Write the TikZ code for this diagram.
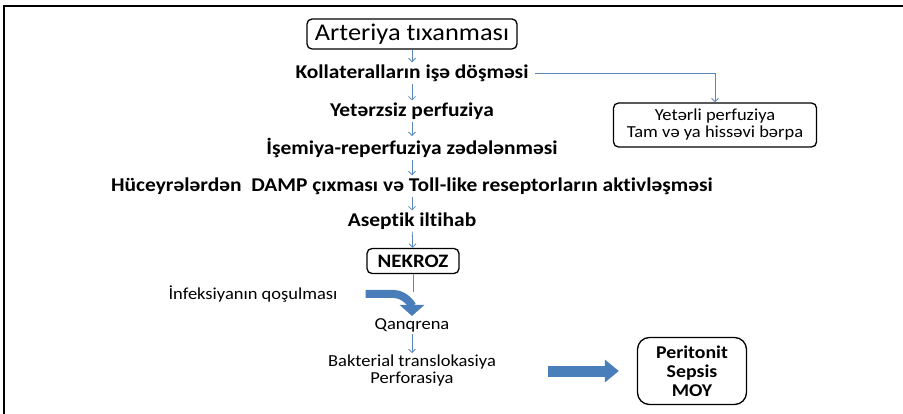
\documentclass[tikz,border=0pt]{standalone}
\usepackage{fontspec}
\setmainfont{Carlito}[FakeStretch=1.1, Ligatures=NoCommon]
\usepackage{tikz}
\usetikzlibrary{positioning, arrows.meta, calc}
\definecolor{flowBlue}{HTML}{5B88B8}
\definecolor{fatBlue}{HTML}{4A7EBB}
\definecolor{fatEdge}{HTML}{3A659A}
\tikzset{
  stepbox/.style={rectangle, rounded corners=5pt, draw=black, line width=1.3pt,
    align=center, inner sep=3pt},
  steptext/.style={font=\bfseries\fontsize{19.5}{20}\selectfont, inner sep=2pt},
  sidetext/.style={font=\fontsize{16.8}{17}\selectfont, align=center, inner sep=2pt},
  thinarrow/.style={-{Straight Barb[length=3.5pt,width=7pt]}, flowBlue, line width=0.8pt},
  fatarrow/.style={-{Triangle[length=14pt,width=22pt]}, fatBlue, line width=11pt},
}
\begin{document}
\begin{tikzpicture}[x=1pt, y=-1pt]
    \useasboundingbox (0,0) rectangle (903,414);
    \draw[line width=2pt] (4,414) -- (4,6) -- (903,6);
    % main column
    \node[stepbox, font=\fontsize{24}{25}\selectfont, minimum width=210pt,
          minimum height=30pt] (arteriya) at (412,34) {Arteriya tıxanması};
    \node[steptext] (kollateral) at (412,73) {Kollateralların işə döşməsi};
    \node[steptext] (yetersiz) at (412,111) {Yetərzsiz perfuziya};
    \node[steptext] (isemiya) at (412,148) {İşemiya-reperfuziya zədələnməsi};
    \node[steptext] (huceyre) at (412,186)
      {Hüceyrələrdən\ \ DAMP çıxması və Toll-like reseptorların aktivləşməsi};
    \node[steptext] (aseptik) at (412,221) {Aseptik iltihab};
    \node[stepbox, font=\bfseries\fontsize{19}{20}\selectfont, minimum width=92pt,
          minimum height=25pt] (nekroz) at (413,261) {NEKROZ};
    \node[sidetext] (infeksiya) at (253,294) {İnfeksiyanın qoşulması};
    \node[sidetext] (qanqrena) at (412,325) {Qanqrena};
    \node[sidetext] (bakterial) at (412,371) {Bakterial translokasiya\\Perforasiya};
    % side boxes
    \node[stepbox, font=\fontsize{16.8}{17}\selectfont, minimum width=203pt,
          minimum height=44pt] (yeterli) at (715,125)
      {Yetərli perfuziya\\Tam və ya hissəvi bərpa};
    \node[stepbox, rounded corners=12pt, font=\bfseries\fontsize{18}{19}\selectfont,
          minimum width=109pt, minimum height=67pt] (peritonit) at (692,371)
      {Peritonit\\Sepsis\\MOY};
    % connectors
    \draw[thinarrow] (arteriya) -- (kollateral);
    \draw[thinarrow] (kollateral) -- (yetersiz);
    \draw[thinarrow] (yetersiz) -- (isemiya);
    \draw[thinarrow] (isemiya) -- (huceyre);
    \draw[thinarrow] (huceyre) -- (aseptik);
    \draw[thinarrow] (aseptik) -- (nekroz);
    \draw[thinarrow] ([xshift=4pt]kollateral.east) -| (yeterli.north);
    \draw[flowBlue, line width=0.8pt] (nekroz.south) -- ++(0,18);
    \draw[thinarrow] (qanqrena) -- (bakterial);
    \draw[fatarrow, line width=8pt, -{Triangle[length=11pt,width=24pt]}]
      ([xshift=26pt]infeksiya.east) -- ++(28,0) to[out=0, in=90] (qanqrena.north);
    \draw[fatarrow] ([xshift=50pt]bakterial.east) -- ([xshift=-18pt]peritonit.west);
\end{tikzpicture}
\end{document}
